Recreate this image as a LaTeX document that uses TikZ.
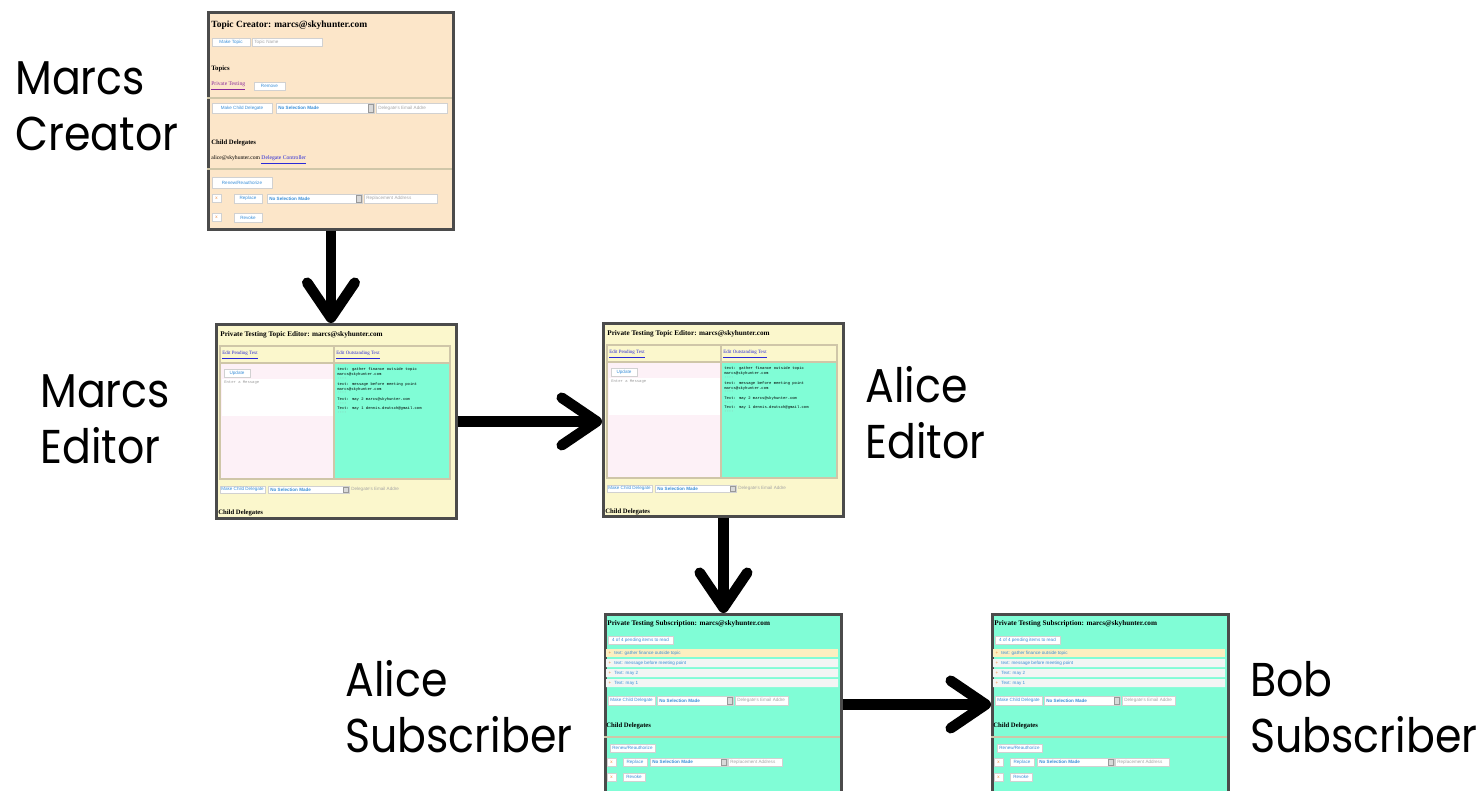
\documentclass[tikz,border=0pt]{standalone}
\usepackage{fontspec}
\newfontfamily\labelfont[FakeStretch=0.9]{Poppins}
\newfontfamily\websans{Liberation Sans}
\newfontfamily\webserif{Liberation Serif}
\newfontfamily\webmono{Liberation Mono}
\usetikzlibrary{arrows.meta}

\definecolor{creatorbg}{HTML}{FCE6C9}
\definecolor{editorbg}{HTML}{FBF7CC}
\definecolor{aqua}{HTML}{80FDD6}
\definecolor{panepink}{HTML}{FDF1F7}
\definecolor{pageframe}{HTML}{4B4B4B}
\definecolor{rulecol}{HTML}{CFC6A8}
\definecolor{linkblue}{HTML}{2A2AD8}
\definecolor{btnblue}{HTML}{3A8FD8}
\definecolor{visited}{HTML}{8A2A9A}
\definecolor{hilite}{HTML}{FCEFC0}
\definecolor{rowgray}{HTML}{F3F5F4}
\definecolor{bulletcol}{HTML}{F08A3A}

% widgets of the web pages
\newcommand{\webbutton}[5]{%
  \draw[field] (#1,#2) rectangle (#3,#4);
  \node[fieldtext] at ({(#1+#3)/2},{(#2+#4)/2}) {#5};}
\newcommand{\webinput}[5]{%
  \draw[field] (#1,#2) rectangle (#3,#4);
  \node[fieldtext,anchor=west,text=black!35] at ({#1+2},{(#2+#4)/2}) {#5};}
\newcommand{\webselect}[4]{%
  \draw[field] (#1,#2) rectangle (#3,#4);
  \node[fieldtext,anchor=west,font=\websans\bfseries\fontsize{2.6}{3}\selectfont] at ({#1+2},{(#2+#4)/2}) {No Selection Made};
  \draw[fill=black!15,draw=black!40,line width=0.2pt] ({#3-6},{#2+1}) rectangle ({#3-1},{#4-1});}
\newcommand{\webtick}[2]{%
  \draw[field] (#1,#2) rectangle ({#1+9},{#2+8});
  \node[fieldtext,text=bulletcol] at ({#1+4.5},{#2+4}) {x};}

% page contents, in pixels from the top left corner
\newcommand{\creatorpage}{%
  \node[webtitle,font=\webserif\bfseries\fontsize{5.4}{6}\selectfont] at (4,14) {Topic Creator: marcs@skyhunter.com};
  \webbutton{5}{27}{43}{35}{Make Topic}
  \webinput{45}{27}{115}{35}{Topic Name}
  \node[webhead] at (4,58) {Topics};
  \node[webtext,text=visited] at (4,75) {\underline{Private Testing}};
  \webbutton{47}{71}{78}{79}{Remove}
  \draw[rulecol,line width=0.8pt] (0,87) -- (245,87);
  \webbutton{5}{92}{65}{102}{Make Child Delegate}
  \webselect{69}{92}{167}{102}
  \webinput{169}{92}{240}{102}{Delegate's Email Addre}
  \node[webhead] at (4,132) {Child Delegates};
  \node[webtext] at (4,149) {alice@skyhunter.com \textcolor{linkblue}{\underline{Delegate Controller}}};
  \draw[rulecol,line width=0.8pt] (0,158) -- (245,158);
  \webbutton{5}{166}{65}{177}{Renew/Reauthorize}
  \webtick{5}{183}
  \webbutton{27}{183}{55}{192}{Replace}
  \webselect{60}{183}{155}{192}
  \webinput{157}{183}{230}{192}{Replacement Address}
  \webtick{5}{202}
  \webbutton{27}{202}{55}{211}{Revoke}}

\newcommand{\editorpage}{%
  \node[webtitle] at (5,12) {Private Testing Topic Editor: marcs@skyhunter.com};
  \draw[rulecol,line width=0.6pt] (5,23) rectangle (235,156);
  \fill[panepink] (6,41) rectangle (118,155);
  \fill[aqua] (120,41) rectangle (234,155);
  \draw[rulecol,line width=0.6pt] (5,40) -- (235,40) (119,23) -- (119,156);
  \node[webtext,text=linkblue,font=\webserif\fontsize{2.8}{3}\selectfont] at (7,32) {\underline{Edit Pending Text}};
  \node[webtext,text=linkblue,font=\webserif\fontsize{2.8}{3}\selectfont] at (121,32) {\underline{Edit Outstanding Text}};
  \webbutton{9}{46}{35}{54}{Update}
  \fill[white] (7,56) rectangle (118,93);
  \node[mono,text=black!40] at (9,60) {Enter a Message};
  \node[mono] at (122,46) {text: gather finance outside topic};
  \node[mono] at (122,51) {marcs@skyhunter.com};
  \node[mono,text=black!40] at (122,56) {----};
  \node[mono] at (122,61) {text: message before meeting point};
  \node[mono] at (122,66) {marcs@skyhunter.com};
  \node[mono,text=black!40] at (122,70) {----};
  \node[mono] at (122,76) {Text: may 2 marcs@skyhunter.com};
  \node[mono,text=black!40] at (122,81) {----};
  \node[mono] at (122,85) {Text: may 1 dennis.deutsch@gmail.com};
  \node[mono,text=black!40] at (122,90) {----};
  \webbutton{5}{163}{50}{170}{Make Child Delegate}
  \webselect{53}{163}{134}{170}
  \node[fieldtext,anchor=west,text=black!35] at (136,166.5) {Delegate's Email Addre};
  \node[webhead] at (3,190) {Child Delegates};}

\newcommand{\subscriberpage}{%
  \node[webtitle] at (3,11) {Private Testing Subscription: marcs@skyhunter.com};
  \webbutton{4}{23}{69}{31}{4 of 4 pending items to read}
  \fill[hilite] (2,36) rectangle (234,44);
  \fill[rowgray] (2,46) rectangle (234,54) (2,56) rectangle (234,64) (2,66) rectangle (234,74);
  \foreach \y/\txt in {40/text: gather finance outside topic,50/text: message before meeting point,60/Text: may 2,70/Text: may 1}{
    \node[fieldtext,text=bulletcol] at (6,\y) {+};
    \node[fieldtext,anchor=west] at (10,\y) {\txt};}
  \webbutton{4}{83}{51}{92}{Make Child Delegate}
  \webselect{53}{83}{129}{92}
  \webinput{131}{83}{184}{92}{Delegate's Email Addre}
  \node[webhead] at (2,113) {Child Delegates};
  \draw[rulecol,line width=0.8pt] (0,124) -- (236,124);
  \webbutton{6}{131}{51}{139}{Renew/Reauthorize}
  \webtick{3}{145}
  \webbutton{19}{145}{43}{153}{Replace}
  \webselect{46}{145}{123}{153}
  \webinput{124}{145}{178}{153}{Replacement Address}
  \webtick{3}{160}
  \webbutton{19}{160}{41}{168}{Revoke}}

\begin{document}
\begin{tikzpicture}[x=0.02cm,y=-0.02cm,
  page/.style={draw=pageframe,line width=1.7pt,anchor=north west,inner sep=0pt},
  who/.style={font=\labelfont\fontsize{27}{31.8}\selectfont,align=left,anchor=base west,inner sep=0pt},
  flow/.style={-{Straight Barb[length=7mm,width=9.5mm,round]},line width=6pt},
  field/.style={draw=black!18,fill=white,line width=0.2pt},
  fieldtext/.style={font=\websans\fontsize{2.6}{3}\selectfont,text=btnblue,inner sep=0pt},
  webtitle/.style={font=\webserif\bfseries\fontsize{4.1}{5}\selectfont,anchor=west,inner sep=0pt},
  webhead/.style={font=\webserif\bfseries\fontsize{3.8}{4.5}\selectfont,anchor=west,inner sep=0pt},
  webtext/.style={font=\webserif\fontsize{3.2}{4}\selectfont,anchor=west,inner sep=0pt},
  mono/.style={font=\webmono\fontsize{2.2}{2.5}\selectfont,anchor=west,inner sep=0pt}]
\useasboundingbox (0,0) rectangle (1481,791);

% the five pages
\node[page,fill=creatorbg,minimum width=4.9cm,minimum height=4.34cm] (creator) at (207,11) {};
\node[page,fill=editorbg,minimum width=4.8cm,minimum height=3.88cm] (mEditor) at (215,323) {};
\node[page,fill=editorbg,minimum width=4.8cm,minimum height=3.86cm] (aEditor) at (602,322) {};
\node[page,fill=aqua,minimum width=4.72cm,minimum height=3.6cm] (aSub) at (604,613) {};
\node[page,fill=aqua,minimum width=4.72cm,minimum height=3.6cm] (bSub) at (991,613) {};

\begin{scope}[shift={(creator.north west)}] \creatorpage \end{scope}
\begin{scope}[shift={(mEditor.north west)}] \editorpage \end{scope}
\begin{scope}[shift={(aEditor.north west)}] \editorpage \end{scope}
\begin{scope}[shift={(aSub.north west)}] \subscriberpage \end{scope}
\begin{scope}[shift={(bSub.north west)}] \subscriberpage \end{scope}

% who holds each page (base = last line)
\node[who] (creatorLbl) at (15,150) {Marcs\\Creator};
\node[who] (mEditorLbl) at (40,463) {Marcs\\Editor};
\node[who] (aEditorLbl) at (865,458) {Alice\\Editor};
\node[who] (aSubLbl) at (345,752) {Alice\\Subscriber};
\node[who] (bSubLbl) at (1250,752) {Bob\\Subscriber};

\draw[flow] (creator.south) -- (creator.south |- mEditor.north);
\draw[flow] (mEditor.east) -- (mEditor.east -| aEditor.west);
\draw[flow] (aEditor.south) -- (aEditor.south |- aSub.north);
\draw[flow] (aSub.east) -- (aSub.east -| bSub.west);
\end{tikzpicture}
\end{document}
